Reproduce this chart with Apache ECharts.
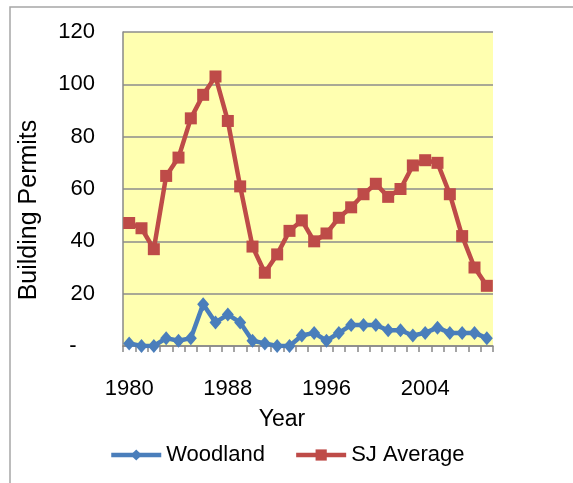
<!DOCTYPE html>
<html>
<head>
<meta charset="utf-8">
<script src="https://cdn.jsdelivr.net/npm/echarts@6/dist/echarts.min.js"></script>
<style>
  html, body { margin: 0; padding: 0; background: #fff; }
  #chart { width: 573px; height: 483px; }
</style>
</head>
<body>
<div id="chart"></div>
<script>
const years = ['1980', '1981', '1982', '1983', '1984', '1985', '1986', '1987', '1988', '1989',
  '1990', '1991', '1992', '1993', '1994', '1995', '1996', '1997', '1998', '1999',
  '2000', '2001', '2002', '2003', '2004', '2005', '2006', '2007', '2008', '2009']
const woodland = [1, 0, 0, 3, 2, 3, 16, 9, 12, 9, 2, 1, 0, 0, 4, 5, 2, 5, 8, 8,
  8, 6, 6, 4, 5, 7, 5, 5, 5, 3]
const sjAverage = [47, 45, 37, 65, 72, 87, 96, 103, 86, 61, 38, 28, 35, 44, 48, 40, 43, 49, 53, 58,
  62, 57, 60, 69, 71, 70, 58, 42, 30, 23]

const font = 'Liberation Sans'
let myChart = echarts.init(document.getElementById('chart'))
myChart.setOption({
  animation: false,
  textStyle: { fontFamily: font },
  graphic: [
    {
      type: 'rect',
      shape: { x: 10, y: 7, width: 620, height: 520 },
      style: { fill: null, stroke: '#a6a6a6', lineWidth: 1.5 }
    }
  ],
  grid: {
    left: 123,
    right: 80,
    top: 32,
    bottom: 137,
    show: true,
    backgroundColor: '#ffffb0',
    borderWidth: 0
  },
  legend: {
    data: ['Woodland', 'SJ Average'],
    left: 104,
    top: 439,
    itemWidth: 50,
    itemHeight: 14,
    itemGap: 29,
    lineStyle: { width: 4.5 },
    textStyle: { fontSize: 22, color: '#000', fontFamily: font }
  },
  xAxis: {
    type: 'category',
    data: years,
    boundaryGap: true,
    name: 'Year',
    nameLocation: 'middle',
    nameGap: 62,
    nameTextStyle: { fontSize: 23, color: '#000', padding: [0, 52, 0, 0] },
    axisLine: { lineStyle: { color: '#888', width: 1.5 } },
    axisTick: { show: true, interval: 0, length: 6, lineStyle: { color: '#888', width: 1.5 } },
    axisLabel: { interval: 7, margin: 32, fontSize: 22, color: '#000' },
    splitLine: { show: false }
  },
  yAxis: {
    type: 'value',
    min: 0,
    max: 120,
    interval: 20,
    name: 'Building Permits',
    nameLocation: 'middle',
    nameGap: 81,
    nameTextStyle: { fontSize: 25, color: '#000', padding: [0, 42, 0, 0] },
    axisLine: { show: true, lineStyle: { color: '#888', width: 1.5 } },
    axisTick: { show: false },
    axisLabel: {
      margin: 28,
      fontSize: 22,
      color: '#000',
      formatter: v => (v === 0 ? '-   ' : String(v))
    },
    splitLine: { show: true, lineStyle: { color: '#8c8c8c', width: 1.5 } }
  },
  series: [
    {
      name: 'Woodland',
      type: 'line',
      data: woodland,
      color: '#4a7ebb',
      symbol: 'diamond',
      symbolSize: [12, 14],
      showAllSymbol: true,
      lineStyle: { width: 4.5 }
    },
    {
      name: 'SJ Average',
      type: 'line',
      data: sjAverage,
      color: '#be4b48',
      symbol: 'rect',
      symbolSize: 12,
      showAllSymbol: true,
      lineStyle: { width: 4.5 }
    }
  ]
})
</script>
</body>
</html>
